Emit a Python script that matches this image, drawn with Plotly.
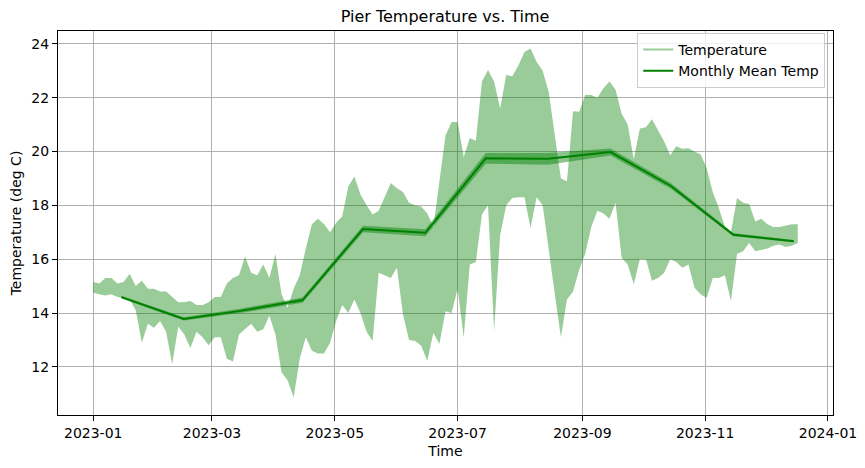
import pandas as pd
import plotly.graph_objects as go

# readings, summarised as high / low per 3-day block, 2023-01-01 .. 2023-12-17
start = pd.Timestamp("2023-01-01")
span_days = 350

temp_high = [15.15, 15.1, 15.3, 15.3, 15.1, 15.15, 15.46, 15.0, 15.2, 14.9,
             14.9, 14.8, 14.8, 14.6, 14.4, 14.4, 14.45, 14.3, 14.3, 14.4,
             14.6, 14.6, 15.1, 15.3, 15.4, 16.1, 15.5, 15.4, 15.8, 15.3,
             16.2, 14.7, 14.2, 14.9, 15.4, 16.4, 17.3, 17.5, 17.3, 17.0,
             17.35, 17.6, 18.7, 19.07, 18.4, 18.0, 17.66, 17.8, 18.3, 18.83,
             18.64, 18.5, 18.1, 18.0, 17.96, 17.7, 17.2, 19.0, 20.6, 21.1,
             21.1, 19.8, 20.5, 20.4, 22.6, 23.03, 22.6, 21.6, 22.84, 22.8,
             23.2, 23.7, 23.83, 23.33, 23.0, 22.2, 20.6, 19.0, 18.9, 21.5,
             21.48, 22.1, 22.1, 22.0, 22.35, 22.6, 22.3, 21.4, 21.0, 19.7,
             20.86, 20.9, 21.2, 20.8, 20.37, 19.86, 20.2, 20.1, 20.12, 20.0,
             19.9, 19.38, 18.5, 17.9, 17.2, 17.0, 18.27, 18.1, 18.05, 17.4,
             17.5, 17.3, 17.2, 17.2, 17.25, 17.3, 17.3]
temp_low = [14.75, 14.7, 14.65, 14.7, 14.6, 14.55, 14.5, 14.1, 12.9, 13.6,
            13.45, 13.7, 13.3, 12.1, 13.5, 13.2, 12.7, 13.3, 13.1, 12.8,
            13.1, 13.1, 12.3, 12.2, 13.2, 13.4, 13.6, 13.3, 13.4, 13.9,
            13.2, 11.8, 11.5, 10.86, 12.3, 13.1, 12.6, 12.5, 12.5, 12.9,
            13.7, 14.3, 14.0, 14.5, 14.0, 13.3, 12.96, 15.5, 15.4, 15.3,
            15.68, 13.95, 13.0, 12.96, 12.78, 12.22, 13.26, 12.85, 14.07, 14.0,
            14.9, 13.09, 15.8, 15.9, 17.66, 18.0, 13.33, 16.9, 18.0, 18.27,
            18.3, 18.3, 17.16, 18.3, 18.0, 16.4, 14.7, 13.1, 14.5, 14.8,
            15.6, 16.2, 17.2, 17.8, 17.7, 17.5, 18.1, 16.05, 15.8, 15.07,
            16.0, 16.0, 15.2, 15.3, 15.5, 16.0, 15.9, 15.68, 15.8, 14.94,
            14.7, 14.56, 15.3, 15.3, 15.4, 14.44, 16.2, 16.3, 16.6, 16.3,
            16.35, 16.4, 16.5, 16.55, 16.45, 16.5, 16.6]

months = ["2023-01-15", "2023-02-15", "2023-03-15", "2023-04-15", "2023-05-15", "2023-06-15",
          "2023-07-15", "2023-08-15", "2023-09-15", "2023-10-15", "2023-11-15", "2023-12-15"]
monthly_mean = [14.59, 13.78, 14.08, 14.48, 17.12, 16.98, 19.75, 19.73, 19.98, 18.72, 16.91, 16.67]
monthly_ci = [0.05, 0.06, 0.08, 0.1, 0.12, 0.13, 0.2, 0.22, 0.13, 0.1, 0.06, 0.04]

n = len(temp_high)
t = [start + pd.Timedelta(days=span_days * k / (n - 1)) for k in range(n)]

month_x = pd.to_datetime(months)
upper = [m + c for m, c in zip(monthly_mean, monthly_ci)]
lower = [m - c for m, c in zip(monthly_mean, monthly_ci)]

temp_color = "rgba(0,128,0,0.4)"

fig = go.Figure()
# envelope of the raw readings (highs forward, lows back)
fig.add_trace(go.Scatter(x=t + t[::-1], y=temp_high + temp_low[::-1], mode="lines",
                         fill="toself", fillcolor=temp_color, line=dict(width=0),
                         showlegend=False, hoverinfo="skip"))
fig.add_trace(go.Scatter(x=[None], y=[None], mode="lines", name="Temperature",
                         line=dict(color=temp_color, width=2)))
fig.add_trace(go.Scatter(x=month_x, y=upper, mode="lines", line=dict(width=0),
                         showlegend=False, hoverinfo="skip"))
fig.add_trace(go.Scatter(x=month_x, y=lower, mode="lines", line=dict(width=0),
                         fill="tonexty", fillcolor="rgba(0,128,0,0.45)",
                         showlegend=False, hoverinfo="skip"))
fig.add_trace(go.Scatter(x=month_x, y=monthly_mean, mode="lines", name="Monthly Mean Temp",
                         line=dict(color="green", width=2)))

# matplotlib-like 5% padding
x0, x1 = t[0], t[-1]
pad = (x1 - x0) * 0.05
ymin, ymax = min(temp_low), max(temp_high)
ypad = (ymax - ymin) * 0.05

axis_style = dict(showline=True, linecolor="black", linewidth=1.1, mirror=True,
                  ticks="outside", ticklen=5, tickwidth=1.1, tickcolor="black",
                  showgrid=True, gridcolor="#b0b0b0", gridwidth=1.1, zeroline=False,
                  automargin=False, tickfont=dict(size=14, color="black"))

# page body has an 8px margin, so the figure is 8px smaller each way
fig.update_layout(
    width=857, height=460,
    margin=dict(l=50, r=32, t=23, b=53),
    paper_bgcolor="white", plot_bgcolor="white",
    font=dict(family="DejaVu Sans", color="black", size=14),
    title=dict(text="Pier Temperature vs. Time", x=0.51, xanchor="center",
               y=0.982, yanchor="middle", font=dict(size=16)),
    xaxis=dict(title=dict(text="Time", standoff=6, font=dict(size=14)),
               range=[x0 - pad, x1 + pad],
               tickvals=pd.date_range("2023-01-01", "2024-01-01", freq="2MS"),
               tickformat="%Y-%m", **axis_style),
    yaxis=dict(title=dict(text="Temperature (deg C)", standoff=6, font=dict(size=14)),
               range=[ymin - ypad, ymax + ypad], dtick=2, **axis_style),
    legend=dict(x=0.99, y=0.995, xanchor="right", yanchor="top", traceorder="normal",
                bgcolor="rgba(255,255,255,0.8)", bordercolor="#cccccc", borderwidth=1,
                tracegroupgap=0, font=dict(size=14)),
    showlegend=True,
)

fig.write_html("out.html")
